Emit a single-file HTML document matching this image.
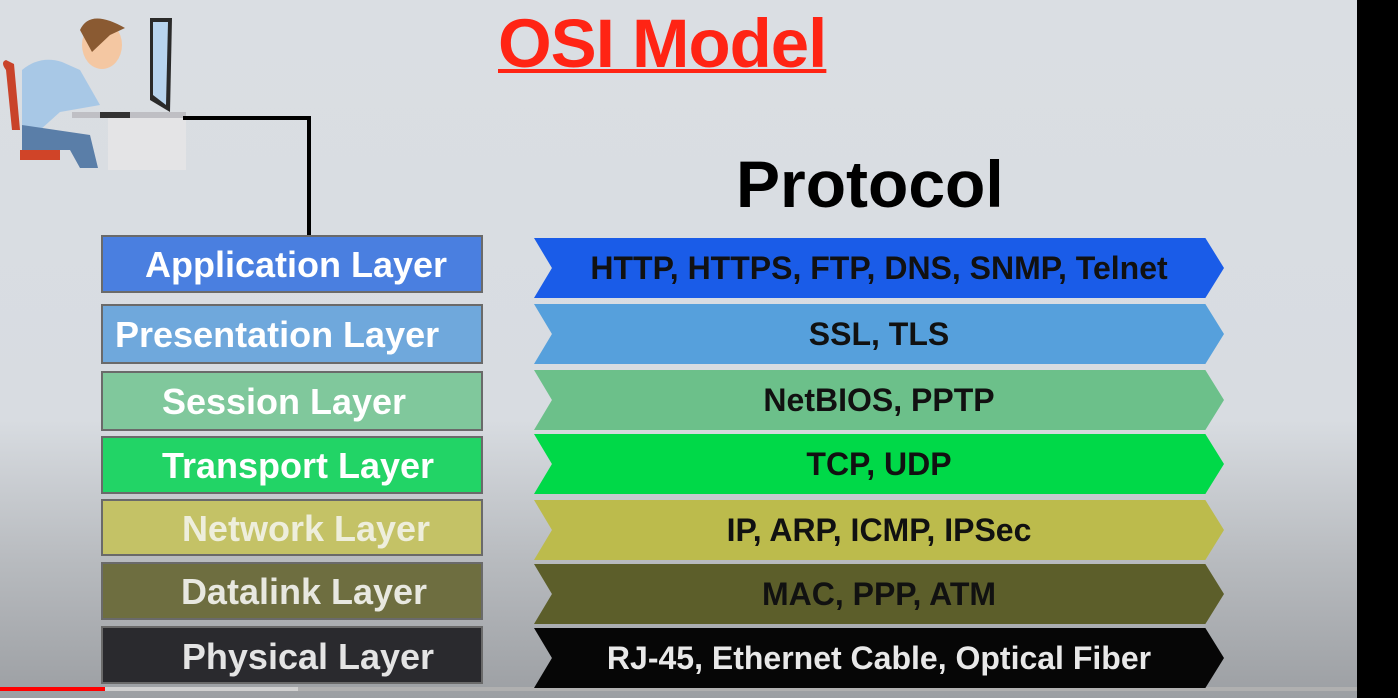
<!DOCTYPE html>
<html><head><meta charset="utf-8"><style>
body{margin:0;width:1398px;height:698px;overflow:hidden;position:relative;font-family:"Liberation Sans",sans-serif;
background:linear-gradient(#dadee3 0px,#d8dce1 420px,#b8bbbf 560px,#9c9fa3 698px);}
.box{position:absolute;left:101px;width:378px;border:2px solid #6a6a6a;color:#fff;font-weight:bold;font-size:36px;text-align:center;box-sizing:content-box;white-space:nowrap;}
.box span{position:relative}
.chev{position:absolute;left:534px;width:690px;height:60px;clip-path:polygon(0 0,97.3% 0,100% 50%,97.3% 100%,0 100%,2.6% 50%);font-weight:bold;font-size:32px;text-align:center;line-height:60px;color:#111;white-space:nowrap;}
</style></head><body>
<div style="position:absolute;left:1357px;top:0;width:41px;height:698px;background:#000"></div>
<div style="position:absolute;left:0;top:687px;width:1357px;height:4px;background:#b0b0b0"></div>
<div style="position:absolute;left:0;top:687px;width:298px;height:4px;background:#d0d0d0"></div>
<div style="position:absolute;left:0;top:687px;width:105px;height:4px;background:#f00"></div>

<div style="position:absolute;left:498px;top:4px;font-size:69px;font-weight:bold;color:#ff2414;text-decoration:underline;text-decoration-thickness:4px;letter-spacing:-1px">OSI Model</div>
<div style="position:absolute;left:736px;top:146px;font-size:66px;font-weight:bold;color:#000">Protocol</div>

<svg style="position:absolute;left:0;top:0" width="320" height="250">
<rect x="108" y="114" width="78" height="56" fill="#e4e4e6"/>
<rect x="72" y="112" width="114" height="6" fill="#bfbfc4"/>
<path d="M6 70 Q0 62 6 60 L14 64 L20 130 L12 130 Z" fill="#c9432a"/>
<path d="M20 150 L60 150 L60 160 L20 160 Z" fill="#d04428"/>
<path d="M22 70 Q40 55 62 62 L80 70 L100 105 L60 112 L40 130 L22 125 Z" fill="#a8c8e6"/>
<path d="M22 125 L90 135 L98 168 L80 168 L70 150 L22 150 Z" fill="#5a7ea8"/>
<ellipse cx="102" cy="45" rx="20" ry="24" fill="#f4c7a2"/>
<path d="M80 30 Q90 8 125 28 L110 35 L92 52 Z" fill="#8a5a32"/>
<path d="M150 18 L172 18 L170 112 L150 100 Z" fill="#2a2a2a"/>
<path d="M153 22 L168 22 L166 105 L153 95 Z" fill="#b8d4ee"/>
<rect x="100" y="112" width="30" height="6" fill="#333"/>
<path d="M183 118 L309 118 L309 240" fill="none" stroke="#000" stroke-width="4"/>
</svg>

<div class="box" style="top:235px;height:54px;line-height:56px;background:#4a7fe0"><span style="left:4px">Application Layer</span></div>
<div class="box" style="top:304px;height:56px;line-height:58px;background:#6fa8dc;text-align:left"><span style="padding-left:12px">Presentation Layer</span></div>
<div class="box" style="top:371px;height:56px;line-height:58px;background:#80c89c"><span style="left:-8px">Session Layer</span></div>
<div class="box" style="top:436px;height:54px;line-height:56px;background:#22d466"><span style="left:6px">Transport Layer</span></div>
<div class="box" style="top:499px;height:53px;line-height:56px;background:#c4c266;color:#eeeedc"><span style="left:14px">Network Layer</span></div>
<div class="box" style="top:562px;height:54px;line-height:56px;background:#6e6e40;color:#e8e8e0"><span style="left:12px">Datalink Layer</span></div>
<div class="box" style="top:626px;height:54px;line-height:58px;background:#2a2a2e;color:#e4e4e4"><span style="left:16px">Physical Layer</span></div>

<div class="chev" style="top:238px;background:#1a5ce8">HTTP, HTTPS, FTP, DNS, SNMP, Telnet</div>
<div class="chev" style="top:304px;background:#56a0dc">SSL, TLS</div>
<div class="chev" style="top:370px;background:#6cc08a">NetBIOS, PPTP</div>
<div class="chev" style="top:434px;background:#00d948">TCP, UDP</div>
<div class="chev" style="top:500px;background:#bcbb4c">IP, ARP, ICMP, IPSec</div>
<div class="chev" style="top:564px;background:#5c5e2a">MAC, PPP, ATM</div>
<div class="chev" style="top:628px;background:#060606;color:#e8e8e8">RJ-45, Ethernet Cable, Optical Fiber</div>
</body></html>
